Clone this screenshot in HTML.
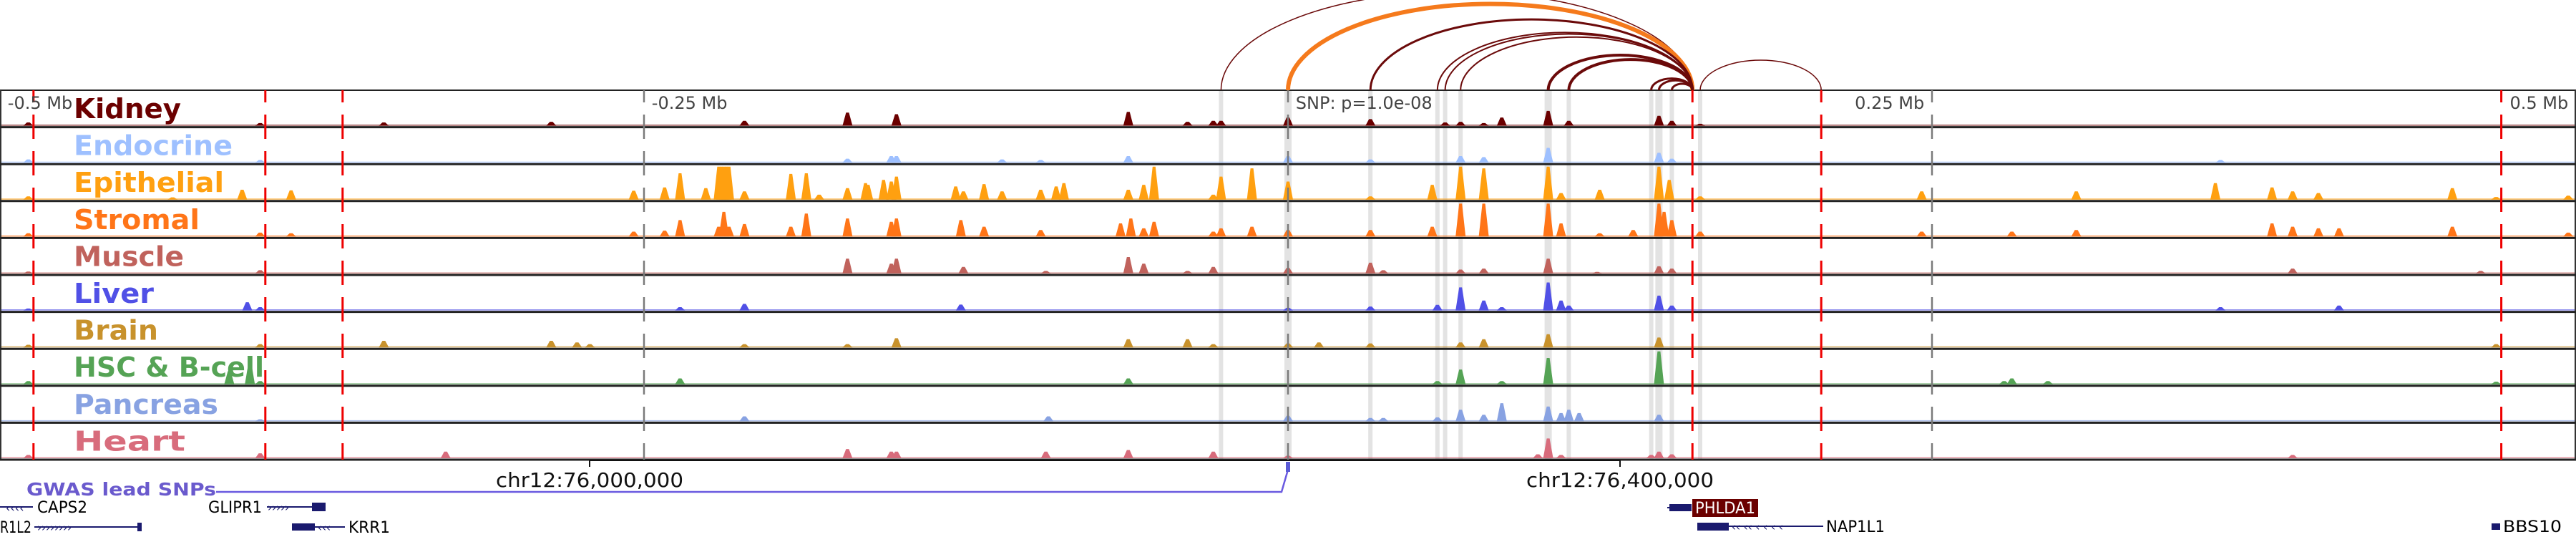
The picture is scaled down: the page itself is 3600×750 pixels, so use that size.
<!DOCTYPE html>
<html><head><meta charset="utf-8"><style>
html,body{margin:0;padding:0;background:#fff;}
svg{display:block;}
</style></head><body>
<svg id="chart" width="3600" height="750" viewBox="0 0 3600 750" xmlns="http://www.w3.org/2000/svg" font-family="'DejaVu Sans','Liberation Sans',sans-serif">
<g id="bands"></g>
<g id="signals"></g>
<g id="frame"></g>
<g id="vlines"></g>
<g id="labels"></g>
<g id="arcs"></g>
<g id="lower"></g>
</svg>
<script>
// ---------- data ----------
const trackNames = ["Kidney","Endocrine","Epithelial","Stromal","Muscle","Liver","Brain","HSC & B-cell","Pancreas","Heart"];
const trackColors = ["#6b0000","#9ec0ff","#ffa010","#ff7518","#c0625c","#5050e6","#c8922c","#55a355","#88a2e2","#d86c7c"];
const labelWidths = [150,222,210,176,154,112,118,266,202,156];
// peak positions (kb relative to lead SNP) and heights (fraction of track)
const kidneyPos = [-489,-399,-351,-286,-211,-171,-152,-62,-39,-29,-26,0,32,61,67,76,83,101,109,144,149,160];
const kidneyVal = [0.1,0.08,0.1,0.12,0.15,0.4,0.35,0.42,0.12,0.15,0.15,0.25,0.2,0.1,0.12,0.08,0.25,0.45,0.15,0.3,0.15,0.06];
const endoPos = [-489,-399,-171,-154,-152,-111,-96,-62,0,32,67,76,101,144,149,362];
const endoVal = [0.1,0.08,0.12,0.2,0.2,0.1,0.08,0.2,0.2,0.1,0.2,0.17,0.45,0.3,0.12,0.08];
const epiPos = [-489,-433,-406,-387,-254,-242,-236,-226,-221,-220,-219,-218,-217,-211,-193,-187,-182,-171,-164,-163,-157,-154,-152,-129,-126,-118,-111,-96,-90,-87,-62,-56,-52,-29,-26,-14,0,32,56,67,76,101,106,121,144,148,160,246,306,360,382,390,400,452,469,497];
const epiVal = [0.1,0.07,0.3,0.28,0.27,0.37,0.8,0.35,1,1,1,1,1,0.25,0.78,0.8,0.15,0.35,0.5,0.45,0.6,0.55,0.7,0.4,0.25,0.47,0.25,0.3,0.4,0.5,0.3,0.45,1,0.15,0.7,0.95,0.55,0.1,0.45,1,0.95,1,0.2,0.3,1,0.6,0.1,0.25,0.25,0.5,0.37,0.25,0.2,0.35,0.08,0.12];
const stromPos = [-489,-399,-387,-254,-242,-236,-221,-219,-217,-211,-193,-187,-171,-154,-152,-127,-118,-96,-65,-61,-56,-52,-29,-26,-14,0,32,56,67,76,101,106,121,134,144,146,149,160,246,281,306,382,390,400,408,452,497];
const stromVal = [0.1,0.12,0.1,0.15,0.18,0.5,0.3,0.75,0.3,0.38,0.3,0.7,0.55,0.45,0.55,0.5,0.3,0.2,0.4,0.55,0.25,0.45,0.15,0.25,0.3,0.2,0.2,0.3,1,1,1,0.4,0.1,0.2,1,0.75,0.5,0.15,0.15,0.15,0.2,0.4,0.3,0.25,0.25,0.3,0.12];
const musclePos = [-489,-399,-171,-154,-152,-126,-94,-62,-56,-39,-29,0,32,37,67,76,101,120,144,149,390,463];
const muscleVal = [0.06,0.1,0.45,0.3,0.45,0.2,0.08,0.5,0.3,0.08,0.2,0.17,0.33,0.1,0.12,0.15,0.45,0.05,0.22,0.15,0.15,0.08];
const liverPos = [-489,-404,-399,-236,-211,-127,0,32,58,67,76,83,101,106,109,144,149,362,408];
const liverVal = [0.06,0.25,0.1,0.1,0.2,0.18,0.08,0.12,0.17,0.7,0.3,0.1,0.85,0.3,0.15,0.45,0.15,0.1,0.15];
const brainPos = [-489,-399,-351,-286,-276,-271,-211,-171,-152,-62,-39,-29,0,12,32,67,76,101,144,469];
const brainVal = [0.08,0.1,0.2,0.2,0.15,0.1,0.1,0.1,0.28,0.25,0.25,0.1,0.12,0.15,0.12,0.15,0.25,0.4,0.3,0.1];
const hscPos = [-489,-411,-403,-399,-236,-62,58,67,83,101,144,278,281,295,469];
const hscVal = [0.1,0.4,0.65,0.1,0.18,0.18,0.1,0.45,0.1,0.8,1,0.1,0.18,0.1,0.08];
const pancPos = [-399,-211,-93,0,32,37,58,67,76,83,101,106,109,113,144];
const pancVal = [0.06,0.15,0.15,0.17,0.1,0.1,0.12,0.35,0.2,0.55,0.45,0.25,0.35,0.25,0.2];
const heartPos = [-489,-399,-327,-171,-154,-152,-94,-62,-29,0,97,101,106,141,144,149,390];
const heartVal = [0.1,0.15,0.2,0.28,0.2,0.2,0.2,0.25,0.2,0.08,0.12,0.6,0.1,0.1,0.2,0.12,0.1];
const trackPos = [kidneyPos,endoPos,epiPos,stromPos,musclePos,liverPos,brainPos,hscPos,pancPos,heartPos];
const trackVal = [kidneyVal,endoVal,epiVal,stromVal,muscleVal,liverVal,brainVal,hscVal,pancVal,heartVal];
// highlighted loop anchors (kb)
const bandPos = [-26,0,32,58,61,67,101,109,141,144,149,160];
// loops
const arcStart = [-26,0,32,58,61,67,101,109,141,144,149,160];
const arcEnd   = [157,157,157,157,157,157,157,157,157,157,157,207];
const arcWeight= [1,6,3,2,2,2,4,4,3,3,3,1];
// marker lines
const redLines = [-487,-397,-367,157,207,471];
const grayLines = [-250,0,250];
const tickLabels = ["-0.5 Mb","-0.25 Mb","SNP: p=1.0e-08","0.25 Mb","0.5 Mb"];
const tickKb = [-497,-247,3,247,497];
const tickAnchor = ["start","start","start","end","end"];

// ---------- scales ----------
const X0 = 1800, PXKB = 3.6;
function xs(kb){ return X0 + kb*PXKB; }
const TOP = 126, TH = 51.6, MAXH = 46;
function trackTop(i){ return TOP + i*TH; }
function ys(i,v){ return trackTop(i)+TH-2 - Math.min(v,1)*MAXH; }
const NS = "http://www.w3.org/2000/svg";
function mk(tag, attrs, parent){
  const e = document.createElementNS(NS, tag);
  for (const k in attrs) e.setAttribute(k, attrs[k]);
  parent.appendChild(e); return e;
}
const gB = document.getElementById('bands'), gS = document.getElementById('signals'),
      gF = document.getElementById('frame'), gV = document.getElementById('vlines'),
      gL = document.getElementById('labels'), gA = document.getElementById('arcs'),
      gW = document.getElementById('lower');
const BOTTOM = trackTop(10);

// bands
bandPos.forEach((kb,i)=>{
  const w = (kb===0||kb===101||kb===144)?10:6;
  const r = mk('rect',{x:xs(kb)-w/2,y:TOP,width:w,height:BOTTOM-TOP,fill:'#e3e3e3'},gB);
  
  
});

// signals
trackNames.forEach((nm,i)=>{
  const g = mk('g',{},gS);
  
  
  const base = trackTop(i)+TH-2;
  mk('rect',{x:0,y:base-1.5,width:3600,height:1.5,fill:trackColors[i],opacity:0.7},g);
  trackPos[i].forEach((kb,j)=>{
    const x = xs(kb), y = ys(i,trackVal[i][j]);
    const p = mk('polygon',{points:`${x-7},${base} ${x-2},${y} ${x+2},${y} ${x+7},${base}`,fill:trackColors[i]},g);
    
    
  });
});

// frame
mk('line',{x1:0,y1:TOP,x2:3600,y2:TOP,stroke:'#222','stroke-width':2},gF);
mk('line',{x1:1,y1:TOP,x2:1,y2:BOTTOM,stroke:'#333','stroke-width':2},gF);
mk('line',{x1:3599,y1:TOP,x2:3599,y2:BOTTOM,stroke:'#333','stroke-width':2},gF);
for(let i=0;i<10;i++){
  const l = mk('line',{x1:0,y1:trackTop(i+1),x2:3600,y2:trackTop(i+1),stroke:'#222','stroke-width':3},gF);
  
  
}

// vertical lines
grayLines.forEach(kb=>{
  const l = mk('line',{x1:xs(kb),y1:TOP,x2:xs(kb),y2:BOTTOM,stroke:'#7a7a7a','stroke-width':2.5,'stroke-dasharray':'34 17','stroke-dashoffset':17},gV);
  
  
});
redLines.forEach(kb=>{
  const l = mk('line',{x1:xs(kb),y1:TOP,x2:xs(kb),y2:BOTTOM,stroke:'#ee0000','stroke-width':3,'stroke-dasharray':'34 17','stroke-dashoffset':17},gV);
  
  
});

// tick labels
tickLabels.forEach((t,i)=>{
  const tx = mk('text',{x:xs(tickKb[i]),y:152,'font-size':24,fill:'#444','text-anchor':tickAnchor[i]},gL);
  tx.textContent = t;
  
  
});

// track labels
trackNames.forEach((nm,i)=>{
  const tx = mk('text',{x:103,y:trackTop(i)+39,'font-size':38,'font-weight':'bold',fill:trackColors[i],textLength:labelWidths[i],lengthAdjust:'spacingAndGlyphs'},gL);
  tx.textContent = nm;
  
  
});

// arcs
arcStart.forEach((s,i)=>{
  const x1 = xs(s), x2 = xs(arcEnd[i]);
  const w = Math.abs(x2-x1), h = 0.48*Math.pow(w,0.872);
  const col = arcWeight[i]===6 ? '#f57a1c' : '#6b0a0a';
  const p = mk('path',{d:`M${x1},${TOP} A${w/2},${h} 0 0 1 ${x2},${TOP}`,fill:'none',stroke:col,'stroke-width':arcWeight[i]===1?1.5:arcWeight[i]},gA);
  
  
});

// ruler
mk('line',{x1:824,y1:643,x2:2264,y2:643,stroke:'#111','stroke-width':2},gW);
mk('line',{x1:824,y1:643,x2:824,y2:652,stroke:'#111','stroke-width':2},gW);
mk('line',{x1:2264,y1:643,x2:2264,y2:652,stroke:'#111','stroke-width':2},gW);
[["chr12:76,000,000",824],["chr12:76,400,000",2264]].forEach(a=>{
  const t = mk('text',{x:a[1],y:680,'font-size':28,'text-anchor':'middle',fill:'#111',textLength:262,lengthAdjust:'spacingAndGlyphs'},gW);
  t.textContent = a[0];
  
  
});
</script>
<svg width="3600" height="750" style="position:absolute;left:0;top:0" viewBox="0 0 3600 750" font-family="'DejaVu Sans','Liberation Sans',sans-serif">
<text x="37" y="692" font-size="25" font-weight="bold" fill="#6a5acd" textLength="265" lengthAdjust="spacingAndGlyphs">GWAS lead SNPs</text>
<polyline points="302,687 1791,687 1800,656" fill="none" stroke="#6a5ae0" stroke-width="2.5"/>
<rect x="1797" y="645" width="6" height="14" fill="#5b5bd6"/>
<g font-size="22" fill="#000">
 <g>
  <line x1="0" y1="708" x2="46" y2="708" stroke="#1a1a6e" stroke-width="2"/>
  <text x="8" y="715" font-size="16" fill="#1a1a6e">‹‹‹‹</text>
  <text x="52" y="716" textLength="70" lengthAdjust="spacingAndGlyphs">CAPS2</text>
 </g>
 <g>
  <text x="291" y="716" textLength="75" lengthAdjust="spacingAndGlyphs">GLIPR1</text>
  <line x1="373" y1="708" x2="440" y2="708" stroke="#1a1a6e" stroke-width="2"/>
  <text x="374" y="714" font-size="15" fill="#1a1a6e">›››››</text>
  <rect x="436" y="702" width="19" height="12" fill="#1a1a6e"/>
 </g>
 <g>
  <text x="0" y="744" textLength="44" lengthAdjust="spacingAndGlyphs">R1L2</text>
  <line x1="48" y1="736" x2="197" y2="736" stroke="#1a1a6e" stroke-width="2"/>
  <text x="52" y="742" font-size="15" fill="#1a1a6e">››››››››</text>
  <rect x="192" y="730" width="6" height="12" fill="#1a1a6e"/>
 </g>
 <g>
  <rect x="408" y="731" width="32" height="10" fill="#1a1a6e"/>
  <line x1="440" y1="736" x2="482" y2="736" stroke="#1a1a6e" stroke-width="2"/>
  <text x="444" y="742" font-size="15" fill="#1a1a6e">‹‹‹</text>
  <text x="487" y="744" textLength="58" lengthAdjust="spacingAndGlyphs">KRR1</text>
 </g>
 <g>
  <line x1="2330" y1="709" x2="2364" y2="709" stroke="#1a1a6e" stroke-width="2"/>
  <rect x="2333" y="704" width="31" height="10" fill="#1a1a6e"/>
  <rect x="2365" y="697" width="92" height="25" fill="#6b0000"/>
  <text x="2369" y="717" fill="#fff" textLength="84" lengthAdjust="spacingAndGlyphs">PHLDA1</text>
 </g>
 <g>
  <rect x="2372" y="730" width="44" height="11" fill="#1a1a6e"/>
  <line x1="2416" y1="735" x2="2548" y2="735" stroke="#1a1a6e" stroke-width="2"/>
  <text x="2420" y="741" font-size="15" fill="#1a1a6e">‹‹  ‹‹  ‹  ‹ ‹ ‹</text>
  <text x="2552" y="743" textLength="82" lengthAdjust="spacingAndGlyphs">NAP1L1</text>
 </g>
 <g>
  <rect x="3482" y="731" width="12" height="9" fill="#1a1a6e"/>
  <text x="3498" y="743" textLength="82" lengthAdjust="spacingAndGlyphs">BBS10</text>
 </g>
</g>
</svg>
</body></html>
